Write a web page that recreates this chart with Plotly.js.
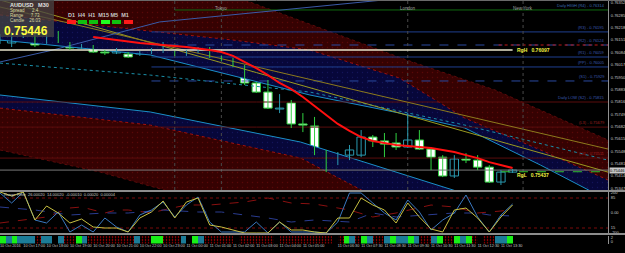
<!DOCTYPE html>
<html><head><meta charset="utf-8">
<script src="https://cdn.plot.ly/plotly-3.0.1.min.js"></script>
<style>html,body{margin:0;padding:0;background:#000;}#c{width:625px;height:253px;}</style>
</head><body><div id="c"></div>
<script>
// ---- bar index (M30 bars) ----
const barIdx = [0,1,2,3,4,5,6,7,8,9,10,11,12,13,14,15,16,17,18,19,20,21,22,23,24,25,26,27,28,29,30,31,32,33,34,35,36,37,38,39,40,41,42,43,44];
const openP  = [0.76151,0.76135,0.76173,0.76189,0.76140,0.76178,0.76135,0.76108,0.76113,0.76086,0.76081,0.76075,0.76075,0.76081,0.76086,0.76081,0.76070,0.76086,0.76097,0.76054,0.76048,0.76010,0.75918,0.75869,0.75777,0.75810,0.75696,0.75685,0.75538,0.75484,0.75527,0.75527,0.75625,0.75604,0.75593,0.75571,0.75609,0.75560,0.75516,0.75414,0.75506,0.75500,0.75462,0.75381,0.75435];
const highP  = [0.76184,0.76195,0.76189,0.76206,0.76189,0.76200,0.76140,0.76130,0.76124,0.76097,0.76108,0.76086,0.76092,0.76108,0.76140,0.76092,0.76097,0.76113,0.76113,0.76065,0.76054,0.76016,0.75923,0.75934,0.75858,0.75826,0.75755,0.75734,0.75555,0.75544,0.75582,0.75663,0.75636,0.75647,0.75647,0.75755,0.75663,0.75571,0.75527,0.75527,0.75538,0.75527,0.75473,0.75446,0.75452];
const lowP   = [0.76130,0.76113,0.76162,0.76113,0.76130,0.76135,0.76097,0.76103,0.76081,0.76070,0.76075,0.76054,0.76065,0.76075,0.76081,0.76065,0.76065,0.76081,0.76054,0.76037,0.76005,0.75907,0.75864,0.75777,0.75755,0.75674,0.75652,0.75527,0.75435,0.75473,0.75500,0.75516,0.75571,0.75516,0.75555,0.75566,0.75555,0.75446,0.75408,0.75403,0.75484,0.75446,0.75376,0.75365,0.75430];
const closeP = [0.76168,0.76173,0.76178,0.76124,0.76178,0.76140,0.76108,0.76119,0.76086,0.76081,0.76097,0.76059,0.76081,0.76086,0.76097,0.76070,0.76086,0.76097,0.76059,0.76048,0.76010,0.75918,0.75869,0.75782,0.75782,0.75696,0.75690,0.75538,0.75484,0.75527,0.75555,0.75625,0.75604,0.75587,0.75571,0.75609,0.75560,0.75516,0.75414,0.75506,0.75500,0.75462,0.75381,0.75435,0.75446];

// moving average (red)
const maIdx = [8,10,12,14,16,18,19,20,21,22,23,24,25,26,27,28,29,30,31,32,33,34,35,36,37,38,39,40,41,42,43,44];
const maVal = [0.76168,0.76151,0.76135,0.76124,0.76113,0.76097,0.76086,0.76065,0.76032,0.75999,0.75961,0.75918,0.75885,0.75842,0.75793,0.75744,0.75696,0.75658,0.75625,0.75604,0.75593,0.75582,0.75576,0.75571,0.75566,0.75555,0.75544,0.75527,0.75511,0.75489,0.75473,0.75457];

// regression channel bands (bar index, price)
const upTopIdx = [0,10.3,21.0,27.5,34.9,42.5,52.2];
const upTopVal = [0.76802,0.76585,0.76368,0.76216,0.76043,0.75880,0.75609];
const upMidIdx = [0,13.7,20.0,26.6,34.3,39.9,46.4,52.2];
const upMidVal = [0.76287,0.76195,0.76151,0.76097,0.75945,0.75728,0.75555,0.75392];
const upLowIdx = [0,12.9,26.6,34.3,39.9,46.4,52.2];
const upLowVal = [0.76151,0.76070,0.75853,0.75755,0.75674,0.75473,0.75283];
const dnTopIdx = [0,12.9,25.8,36.0,40.3];
const dnTopVal = [0.75853,0.75761,0.75598,0.75392,0.75310];
const dnMidIdx = [0,12.9,25.8,30.9,34.3];
const dnMidVal = [0.75782,0.75690,0.75511,0.75338,0.75229];
const dnLowIdx = [0,8.6,17.2];
const dnLowVal = [0.75555,0.75435,0.75283];
const centerIdx = [0,12.9,26.6,39.9,52.2];
const centerVal = [0.76026,0.75961,0.75869,0.75690,0.75500];

// trend lines
const olive1Idx = [0,52.2];  const olive1Val = [0.76368,0.75435];
const olive2Idx = [0,52.2];  const olive2Val = [0.76330,0.75560];
const blueRiseIdx = [0,4.55,13.7,32.9]; const blueRiseVal = [0.76032,0.76097,0.76249,0.76368];

// horizontal levels
const rgH = 0.76097, rgL = 0.75437, bid = 0.75446;
const pivotVals = [0.76195,0.76124,0.76059,0.76005,0.75929];
const pivotNames = ['(R3) - 0.76195','(R2) - 0.76124','(R1) - 0.76059','(PP) - 0.76005','(S1) - 0.75929'];
const lowLevels = [0.75815,0.75679,0.75511];
const lowNames = ['Daily LOW (S2) - 0.75815','(L3) - 0.75679','(L4) - 0.75511'];
const dailyHigh = 0.76314;

// sessions
const sessionIdx = [15,19,35,44.9];
const sessionNames = ["","Tokyo","London","New York"];

// price axis ticks
const priceTicks = [0.76352,0.76285,0.76218,0.76151,0.76084,0.76017,0.75950,0.75883,0.75816,0.75749,0.75682,0.75615,0.75548,0.75481,0.75414,0.75347];

// oscillator
const oscYellow = [210,170,210,-70,70,0,-100,-60,-140,-150,-150,-190,-50,10,120,-50,110,150,-120,-140,-170,-200,-200,-200,-90,-170,-170,-190,-200,-50,-50,150,80,30,-100,100,-40,-160,-190,30,50,-50,-190,-40,80];
const oscBlue   = [200,100,210,-70,-100,10,-190,-120,-190,-50,-140,-190,-20,30,110,-40,80,160,-90,-190,-190,-190,-90,-200,-90,-190,-190,-190,-200,-90,200,200,100,0,-70,130,10,-170,-70,0,180,-40,-190,-20,90];
const sigRedIdx = [0,2,4,6,7,9,10,11,13,14,16,18,21,23,25,27,30,32,34,37,39,41,42,44];
const sigRedVal = [-100,-70,-40,50,60,0,30,30,0,30,80,80,110,150,100,90,30,-40,0,80,60,0,10,30];
const sigBlueIdx = [0,3,6,9,11,14,17,19,21,23,25,27,30,32,34,37,39,41,42,44];
const sigBlueVal = [60,30,-20,0,0,30,10,10,-20,-50,-90,-70,-90,0,-40,-20,0,0,-20,-30];
const oscLevels = [150,-150];

// colour strip: code per half bar (0 black, 1 red, 2 teal, 3 lime)
const stripCodes = [3,2,3,2,2,2,1,2,2,0,2,1,1,3,2,1,1,1,1,1,1,1,1,2,1,1,3,3,1,1,1,2,0,3,2,1,1,1,1,1,0,1,1,1,1,1,1,0,1,1,1,1,1,1,1,1,1,0,1,3,2,1,3,2,1,1,2,3,2,2,3,2,1,1,2,3,1,1,3,2,3,1,0,1,1,2,2,3];

// time labels
const timeLabelIdx = [0,2,4,6,8,10,12,14,16,18,20,22,24,26,29,31,33,35,37,39,41,43];
const timeLabels = ["10 Oct 2016","10 Oct 17:00","10 Oct 18:00","10 Oct 19:00","10 Oct 20:00","10 Oct 21:00","10 Oct 22:00","10 Oct 23:00","11 Oct 00:00","11 Oct 01:00","11 Oct 02:00","11 Oct 03:00","11 Oct 04:00","11 Oct 05:00","11 Oct 06:30","11 Oct 07:30","11 Oct 08:30","11 Oct 09:30","11 Oct 10:30","11 Oct 11:30","11 Oct 12:30","11 Oct 13:30"];

const MAROON='#360202', NAVY='#07073a';
const BULL='#2a9ab0', BEAR='#30d040';
const FONT='Liberation Sans, Arial, sans-serif';
const traces = [];
function ln(x,y,color,width,dash,extra){return Object.assign({type:'scatter',mode:'lines',x:x,y:y,xaxis:'x',yaxis:'y',line:{color:color,width:width,dash:dash||'solid'},hoverinfo:'skip',showlegend:false},extra||{});}
const maroonPat = {shape:'.',fgcolor:'#5a0808',bgcolor:MAROON,size:5,solidity:0.06,fillmode:'replace'};
const navyPat = {shape:'.',fgcolor:'#14145a',bgcolor:NAVY,size:5,solidity:0.05,fillmode:'replace'};

// bands
traces.push(ln(upTopIdx,upTopVal,'#5a0a0a',1,'dot'));
traces.push(ln(upMidIdx,upMidVal,'#a01010',1,'dot',{fill:'tonexty',fillcolor:MAROON,fillpattern:maroonPat}));
traces.push(ln(upLowIdx,upLowVal,'#1a8fc8',1,'solid',{fill:'tonexty',fillcolor:NAVY,fillpattern:navyPat}));
traces.push(ln(dnTopIdx,dnTopVal,'#1a8fc8',1,'solid'));
traces.push(ln(dnMidIdx,dnMidVal,'#a01010',1,'dot',{fill:'tonexty',fillcolor:NAVY,fillpattern:navyPat}));
traces.push(ln(dnLowIdx,dnLowVal,'#5a0a0a',1,'dot',{fill:'tonexty',fillcolor:MAROON,fillpattern:maroonPat}));
traces.push(ln(centerIdx,centerVal,'#1a8fa8',1,'dot'));

// horizontal levels
traces.push(ln([15,52.2],[dailyHigh,dailyHigh],'#0f6a0f',1));
pivotVals.forEach((v,i)=>traces.push(ln([13,52.2],[v,v],(i===1||i===4)?'#2a4aa0':'#1f3f8f',1,(i===1||i===4)?'dash':'solid')));
traces.push(ln([42.8,52.2],[pivotVals[1],pivotVals[1]],'#c01818',1,'dot'));
lowLevels.forEach(v=>traces.push(ln([0,52.2],[v,v],'#5a0d0d',1)));

// trend lines
traces.push(ln(olive1Idx,olive1Val,'#9a9a20',1));
traces.push(ln(olive2Idx,olive2Val,'#8c7a1c',1));
traces.push(ln(blueRiseIdx,blueRiseVal,'#3a5aa8',1));

// session lines
sessionIdx.forEach(s=>traces.push(ln([s,s],[0.75338,0.76368],'#4a4a4a',1,'dot')));

// bid line and regression lines
traces.push(ln([0,52.2],[bid,bid],'#7a7a7a',1));
traces.push(ln([0,44],[rgH,rgH],'#e8e6cc',1.5));
traces.push(ln([43,52.2],[rgL,rgL],'#30c030',1,'dash'));

// candles: wicks then bodies, split into bull / bear
function candleSet(isBull){
  const wx=[],wy=[],bx=[],bb=[],bh=[];
  barIdx.forEach((j,i)=>{
    const up = closeP[i] >= openP[i];
    if(up!==isBull) return;
    wx.push(j,j,null); wy.push(lowP[i],highP[i],null);
    bx.push(j); bb.push(Math.min(openP[i],closeP[i])); bh.push(Math.abs(closeP[i]-openP[i]));
  });
  const col = isBull?BULL:BEAR;
  traces.push(ln(wx,wy,col,1));
  traces.push({type:'bar',x:bx,y:bh,base:bb,width:0.72,xaxis:'x',yaxis:'y',hoverinfo:'skip',showlegend:false,
    marker:{color:isBull?'#000000':'#ffffff',line:{color:col,width:1}}});
}
candleSet(true); candleSet(false);

// MA
traces.push(ln(maIdx,maVal,'#ff1010',2));

// oscillator
oscLevels.forEach(v=>traces.push({type:'scatter',mode:'lines',x:[0,52.2],y:[v,v],xaxis:'x2',yaxis:'y2',line:{color:'#7a0a0a',width:1,dash:'dot'},hoverinfo:'skip',showlegend:false}));
traces.push({type:'scatter',mode:'lines',x:sigRedIdx,y:sigRedVal,xaxis:'x2',yaxis:'y2',line:{color:'#8a1010',width:1,dash:'dash'},hoverinfo:'skip',showlegend:false});
traces.push({type:'scatter',mode:'lines',x:sigBlueIdx,y:sigBlueVal,xaxis:'x2',yaxis:'y2',line:{color:'#2a3c90',width:1,dash:'dash'},hoverinfo:'skip',showlegend:false});
traces.push({type:'scatter',mode:'lines',x:barIdx,y:oscBlue,xaxis:'x2',yaxis:'y2',line:{color:'#3a78c0',width:1},hoverinfo:'skip',showlegend:false});
traces.push({type:'scatter',mode:'lines',x:barIdx,y:oscYellow,xaxis:'x2',yaxis:'y2',line:{color:'#c8c040',width:1},hoverinfo:'skip',showlegend:false});

// colour strip as bars (red cells lightly hatched)
const stripColors = ['#000000','#e00000','#1c7c98','#18f018'];
const stripX = stripCodes.map((c,i)=>0.25+0.5*i);
traces.push({type:'bar',x:stripX,y:stripCodes.map(()=>1),width:0.5,xaxis:'x3',yaxis:'y3',hoverinfo:'skip',showlegend:false,
  marker:{color:stripCodes.map(c=>stripColors[c]),line:{width:0},
    pattern:{shape:stripCodes.map(c=>c===1?'.':''),fgcolor:'#000000',size:3,solidity:0.2}}});

const XD=[0,608/625];
const layout = {
  width:625,height:253,margin:{l:0,r:0,t:0,b:0},paper_bgcolor:'#000',plot_bgcolor:'#000',
  font:{family:FONT,color:'#c8c8c8',size:5},showlegend:false,barmode:'overlay',bargap:0,
  xaxis:{domain:XD,range:[0,52.19],anchor:'y',showgrid:false,zeroline:false,showticklabels:false,fixedrange:true},
  yaxis:{domain:[1-190/253,1],range:[0.75338,0.76368],side:'right',anchor:'x',tickvals:priceTicks,ticktext:priceTicks.map(v=>v.toFixed(5)),
    tickfont:{size:4,color:'#c8c8c8'},ticks:'',ticklabelstandoff:1,showline:true,linecolor:'#909090',showgrid:false,zeroline:false},
  xaxis2:{domain:XD,range:[0,52.19],anchor:'y2',showgrid:false,zeroline:false,showticklabels:false},
  yaxis2:{domain:[1-233/253,1-192/253],range:[-200,210],side:'right',anchor:'x2',tickvals:[200,150,0,-150,-200],ticktext:['200','85','0.00','15','-200'],
    tickfont:{size:4,color:'#c8c8c8'},ticks:'',ticklabelstandoff:1,showline:true,linecolor:'#909090',showgrid:false,zeroline:false},
  xaxis3:{domain:XD,range:[0,52.19],anchor:'y3',showgrid:false,zeroline:false,tickvals:timeLabelIdx,ticktext:timeLabels,ticklabelposition:'outside right',
    tickangle:0,tickfont:{size:3.8,color:'#c8c8c8'},ticks:'',ticklabelstandoff:-1},
  yaxis3:{domain:[1-243.5/253,1-235.5/253],range:[0,1],side:'right',anchor:'x3',tickvals:[0.8,0.2],ticktext:['2','0'],tickfont:{size:4,color:'#c8c8c8'},
    showline:true,linecolor:'#909090',showgrid:false,zeroline:false,ticks:'',ticklabelstandoff:1},
  shapes:[
    {type:'line',xref:'paper',yref:'paper',x0:0,x1:1,y0:1-191/253,y1:1-191/253,line:{color:'#8c8c8c',width:2}},
    {type:'line',xref:'paper',yref:'paper',x0:0,x1:1,y0:1-234/253,y1:1-234/253,line:{color:'#8c8c8c',width:2}},
    {type:'line',xref:'paper',yref:'paper',x0:0,x1:1,y0:1-0.5/253,y1:1-0.5/253,line:{color:'#6a6a6a',width:1}},
    {type:'rect',xref:'paper',yref:'paper',x0:0,x1:54/625,y0:1-37/253,y1:1,fillcolor:'rgba(70,70,70,0.75)',line:{width:0}}
  ],
  annotations:[]
};
const A = layout.annotations;
function pa(x,y,text,opts){A.push(Object.assign({xref:'paper',yref:'paper',x:x/625,y:1-y/253,text:text,showarrow:false,xanchor:'left',yanchor:'middle',font:{family:FONT,size:5,color:'#d0d0d0'}},opts||{}));}
pa(8,5,'<b>AUDUSD   M30</b>',{font:{family:FONT,size:5.5,color:'#e0e0e0'}});
pa(8,11,'Spread      2.4',{font:{family:FONT,size:4.5,color:'#d8d8a0'}});
pa(8,16,'Range      7.73',{font:{family:FONT,size:4.5,color:'#d8d8a0'}});
pa(8,21,'Candle    26:03',{font:{family:FONT,size:4.5,color:'#d8d8a0'}});
pa(2,31,'<b>0.75446</b>',{font:{family:FONT,size:12,color:'#ffff40'}});
pa(66,15,'<b>D1  H4  H1  M15 M5  M1</b>',{font:{family:FONT,size:5.5,color:'#c8c8c8'}});
const tfColors=['#ff1a1a','#10c010','#10c010','#20ff20','#10c010','#ff1a1a'];
const tfX=[67,78,89,101,112,124];
tfX.forEach((x,i)=>layout.shapes.push({type:'rect',xref:'paper',yref:'paper',x0:x/625,x1:(x+9)/625,y0:1-24/253,y1:1-20/253,fillcolor:tfColors[i],line:{width:0}}));
sessionIdx.forEach((s,i)=>{ if(sessionNames[i]) A.push({xref:'x',yref:'paper',x:s,y:1-4/253,text:sessionNames[i],showarrow:false,font:{family:FONT,size:4.5,color:'#a0a0a0'}}); });
A.push({xref:'x',yref:'y',x:44.2,y:rgH,text:'<b>RgH   0.76097</b>',showarrow:false,xanchor:'left',yanchor:'middle',font:{family:FONT,size:5,color:'#f0f040'}});
A.push({xref:'x',yref:'y',x:44.2,y:rgL-0.00018,text:'<b>RgL   0.75437</b>',showarrow:false,xanchor:'left',yanchor:'middle',font:{family:FONT,size:5,color:'#f0f040'}});
A.push({xref:'paper',yref:'y',x:609/625,y:bid,text:'0.75446',showarrow:false,xanchor:'left',yanchor:'middle',bgcolor:'#c8c8c8',font:{family:FONT,size:4,color:'#000'},borderpad:0});
pivotVals.forEach((v,i)=>A.push({xref:'paper',yref:'y',x:607/625,y:v,text:pivotNames[i],showarrow:false,xanchor:'right',yanchor:'bottom',font:{family:FONT,size:4,color:'#3a5ab0'}}));
A.push({xref:'paper',yref:'y',x:607/625,y:dailyHigh,text:'Daily HIGH (R4) - 0.76314',showarrow:false,xanchor:'right',yanchor:'bottom',font:{family:FONT,size:4,color:'#3a6ab0'}});
lowLevels.forEach((v,i)=>A.push({xref:'paper',yref:'y',x:607/625,y:v,text:lowNames[i],showarrow:false,xanchor:'right',yanchor:'bottom',font:{family:FONT,size:4,color:i===0?'#3a5ab0':'#a02020'}}));
pa(2,194,'Range Filter  26.00020  14.00020  -0.00010  0.00020  0.00004',{font:{family:FONT,size:4,color:'#c8c8c8'}});

Plotly.newPlot('c',traces,layout,{staticPlot:true,displayModeBar:false});
</script></body></html>
